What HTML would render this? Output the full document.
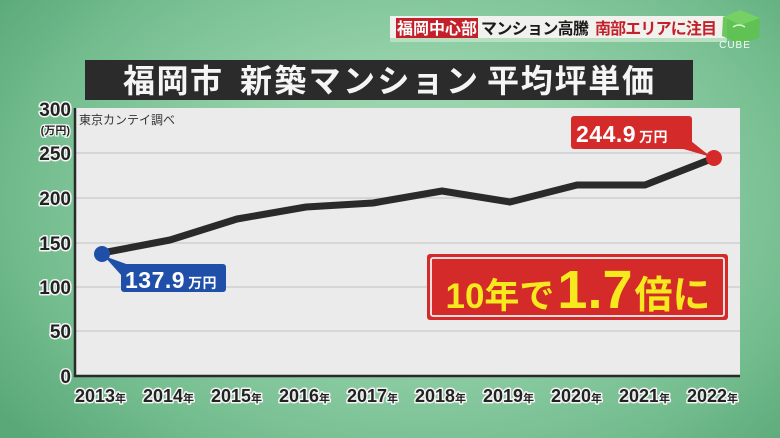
<!DOCTYPE html>
<html><head><meta charset="utf-8">
<style>
html,body{margin:0;padding:0;}
body{width:780px;height:438px;overflow:hidden;position:relative;
background:radial-gradient(ellipse 520px 360px at 420px 200px,#a9dcb9 0%,#93d0a8 40%,#74bd8f 75%,#5aa878 100%);
font-family:"Liberation Sans","Noto Sans CJK JP",sans-serif;}
svg{position:absolute;left:0;top:0;}
</style></head>
<body>
<svg width="780" height="438" viewBox="0 0 780 438" xmlns="http://www.w3.org/2000/svg">
  <!-- top banner -->
  <rect x="390" y="16" width="337" height="23" fill="#f1f1ee"/>
  <rect x="390" y="38" width="337" height="4" fill="#b8e0c0"/>
  <rect x="396" y="18" width="82" height="20" fill="#c3202a"/>
  <text x="437" y="34" text-anchor="middle" font-size="16" font-weight="bold" fill="#fff" font-family="'Liberation Sans','Noto Sans CJK JP',sans-serif">福岡中心部</text>
  <text x="481" y="34" font-size="16" font-weight="bold" fill="#1a1a1a" font-family="'Liberation Sans','Noto Sans CJK JP',sans-serif" textLength="108">マンション高騰</text>
  <text x="595" y="34" font-size="16" font-weight="bold" fill="#c3202a" font-family="'Liberation Sans','Noto Sans CJK JP',sans-serif" textLength="122">南部エリアに注目</text>
  <!-- CUBE logo -->
  <polygon points="740,10 760,18 759,38 740,44 722,36 723,17" fill="#5ec24e" opacity="0.9"/>
  <polygon points="740,10 760,18 741,25 723,17" fill="#7ad46a" opacity="0.8"/>
  <path d="M733 27 q6 -4 12 0" stroke="#d8f5d0" stroke-width="1.5" fill="none"/>
  <text x="735" y="48" text-anchor="middle" font-size="10" fill="#f4fff0" letter-spacing="1">CUBE</text>

  <!-- title bar -->
  <rect x="85" y="60" width="608" height="40" fill="#2b2b2b"/>
  <g font-size="32" font-weight="bold" fill="#f5f5f5" font-family="'Liberation Sans','Noto Sans CJK JP',sans-serif">
    <text x="123" y="92" textLength="99">福岡市</text>
    <text x="240" y="92" textLength="238">新築マンション</text>
    <text x="487" y="92" textLength="167">平均坪単価</text>
  </g>

  <!-- plot area -->
  <rect x="75" y="108" width="665" height="268" fill="#ebebeb"/>
  <g stroke="#cfcfcf" stroke-width="1.5">
    <line x1="76" y1="153" x2="740" y2="153"/>
    <line x1="76" y1="198" x2="740" y2="198"/>
    <line x1="76" y1="243" x2="740" y2="243"/>
    <line x1="76" y1="287" x2="740" y2="287"/>
    <line x1="76" y1="331" x2="740" y2="331"/>
  </g>
  <line x1="75" y1="108" x2="75" y2="377" stroke="#2a2a2a" stroke-width="2.5"/>
  <line x1="74" y1="376" x2="740" y2="376" stroke="#2a2a2a" stroke-width="2.5"/>

  <text x="79" y="124" font-size="12" fill="#333" font-family="'Liberation Sans','Noto Sans CJK JP',sans-serif">東京カンテイ調べ</text>

  <!-- y labels -->
  <g font-size="19" font-weight="bold" fill="#222" stroke="#f4f4f4" stroke-width="3" paint-order="stroke" text-anchor="end" stroke-linejoin="round">
    <text x="71" y="116">300</text>
    <text x="71" y="160">250</text>
    <text x="71" y="205">200</text>
    <text x="71" y="250">150</text>
    <text x="71" y="294">100</text>
    <text x="71" y="338">50</text>
    <text x="71" y="383">0</text>
  </g>
  <text x="70" y="134" text-anchor="end" font-size="11" font-weight="bold" fill="#222" stroke="#f4f4f4" stroke-width="2.5" paint-order="stroke" font-family="'Liberation Sans','Noto Sans CJK JP',sans-serif">(万円)</text>

  <!-- x labels -->
  <g font-size="18" font-weight="bold" fill="#222" stroke="#f4f4f4" stroke-width="3" paint-order="stroke" stroke-linejoin="round" font-family="'Liberation Sans','Noto Sans CJK JP',sans-serif">
    <text x="75" y="402">2013<tspan font-size="11">年</tspan></text>
    <text x="143" y="402">2014<tspan font-size="11">年</tspan></text>
    <text x="211" y="402">2015<tspan font-size="11">年</tspan></text>
    <text x="279" y="402">2016<tspan font-size="11">年</tspan></text>
    <text x="347" y="402">2017<tspan font-size="11">年</tspan></text>
    <text x="415" y="402">2018<tspan font-size="11">年</tspan></text>
    <text x="483" y="402">2019<tspan font-size="11">年</tspan></text>
    <text x="551" y="402">2020<tspan font-size="11">年</tspan></text>
    <text x="619" y="402">2021<tspan font-size="11">年</tspan></text>
    <text x="687" y="402">2022<tspan font-size="11">年</tspan></text>
  </g>

  <!-- series -->
  <polyline points="102,253 170,240 237,219 306,207 373,203 442,191 510,202 577,185 645,185 714,158" fill="none" stroke="#2a2a2a" stroke-width="7" stroke-linejoin="round" stroke-linecap="round"/>

  <!-- blue label -->
  <polygon points="104,256 132,266 122,276" fill="#1f4fa8"/>
  <rect x="121" y="264" width="105" height="28" rx="3" fill="#1f4fa8"/>
  <text x="125" y="288" font-size="23" font-weight="bold" fill="#fff" letter-spacing="0.5">137.9<tspan font-size="14" dx="3" font-family="'Liberation Sans','Noto Sans CJK JP',sans-serif">万円</tspan></text>
  <circle cx="102" cy="254" r="8" fill="#1f4fa8"/>

  <!-- red label -->
  <polygon points="711,157 686,137 680,148" fill="#d42a2a"/>
  <rect x="571" y="116" width="121" height="33" rx="3" fill="#d42a2a"/>
  <text x="576" y="142" font-size="23" font-weight="bold" fill="#fff" letter-spacing="0.5">244.9<tspan font-size="14" dx="3" font-family="'Liberation Sans','Noto Sans CJK JP',sans-serif">万円</tspan></text>
  <circle cx="714" cy="158" r="8" fill="#d42a2a"/>

  <!-- callout box -->
  <rect x="427" y="254" width="301" height="66" rx="3" fill="#d42a2a"/>
  <rect x="431" y="258" width="293" height="58" rx="2" fill="none" stroke="#f3f3f3" stroke-width="1.8"/>
  <text x="578" y="308" text-anchor="middle" font-weight="bold" fill="#f6ea1e" font-family="'Liberation Sans','Noto Sans CJK JP',sans-serif"><tspan font-size="35">10年で</tspan><tspan font-size="54" dx="3">1.7</tspan><tspan font-size="38" dx="2">倍に</tspan></text>
</svg>
</body></html>
